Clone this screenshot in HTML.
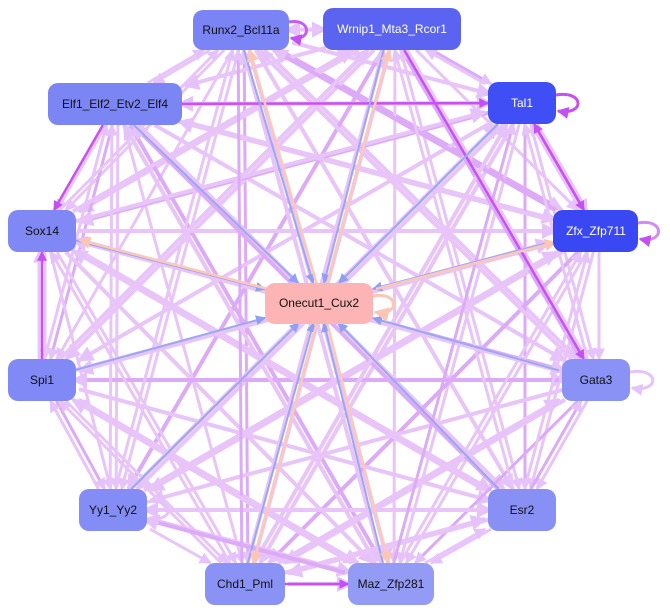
<!DOCTYPE html>
<html><head><meta charset="utf-8"><style>
html,body{margin:0;padding:0;background:#fff;width:670px;height:614px;overflow:hidden}
svg{display:block}
text{font-family:"Liberation Sans",sans-serif;font-size:12px;text-anchor:middle;dominant-baseline:central}
</style></head><body>
<svg id="s" width="670" height="614" viewBox="0 0 670 614">
<defs>
<marker id="ml" markerWidth="4" markerHeight="4" refX="3.5" refY="2" orient="auto" markerUnits="strokeWidth"><path d="M0,0L4,2L0,4z" fill="#e6c2fa"/></marker>
<marker id="md" markerWidth="4" markerHeight="4" refX="3.5" refY="2" orient="auto" markerUnits="strokeWidth"><path d="M0,0L4,2L0,4z" fill="#c34ff5"/></marker>
<marker id="mb" markerWidth="5" markerHeight="5" refX="4.5" refY="2.5" orient="auto" markerUnits="strokeWidth"><path d="M0,0L5,2.5L0,5z" fill="#8fa0f2"/></marker>
<marker id="mp" markerWidth="5" markerHeight="5" refX="4.5" refY="2.5" orient="auto" markerUnits="strokeWidth"><path d="M0,0L5,2.5L0,5z" fill="#fcc6b6"/></marker>
</defs>
<g id="edges"></g>
<g fill="none" stroke-width="3">
<path d="M289,22 C312,18 312,42 291,38" stroke="#c85cf5" marker-end="url(#md)"/>
<path d="M556,95 C585,90 585,116 558,111" stroke="#c34ff5" marker-end="url(#md)"/>
<path d="M638,223 C665,218 665,244 640,239" stroke="#d48af5" marker-end="url(#md)"/>
<path d="M630,372 C660,367 660,393 632,388" stroke="#e6c2fa" marker-end="url(#ml)"/>
<path d="M147,502 C175,497 175,523 149,518" stroke="#e6c2fa" marker-end="url(#ml)"/>
<path d="M373,296 C400,291 400,317 375,312" stroke="#fcc6b6" marker-end="url(#mp)"/>
</g>
<g id="nodes">
<rect x="193" y="10" width="96" height="40" rx="10" fill="#7b84f5"/><text x="241" y="30" fill="#111">Runx2_Bcl11a</text>
<rect x="323" y="8" width="138" height="42" rx="10" fill="#5a64f0"/><text x="392" y="29" fill="#fff">Wrnip1_Mta3_Rcor1</text>
<rect x="48" y="83" width="134" height="42" rx="10" fill="#7b85f4"/><text x="115" y="104" fill="#111">Elf1_Elf2_Etv2_Elf4</text>
<rect x="488" y="82" width="68" height="42" rx="10" fill="#3f4ef5"/><text x="522" y="103" fill="#fff">Tal1</text>
<rect x="8" y="210" width="68" height="42" rx="10" fill="#7f88f5"/><text x="42" y="231" fill="#111">Sox14</text>
<rect x="553" y="210" width="85" height="42" rx="10" fill="#3a48f3"/><text x="596" y="231" fill="#fff">Zfx_Zfp711</text>
<rect x="265" y="283" width="108" height="41" rx="10" fill="#fcb4b4"/><text x="319" y="303" fill="#111">Onecut1_Cux2</text>
<rect x="8" y="359" width="68" height="42" rx="10" fill="#8089f5"/><text x="42" y="380" fill="#111">Spi1</text>
<rect x="562" y="359" width="68" height="42" rx="10" fill="#8a92f5"/><text x="596" y="380" fill="#111">Gata3</text>
<rect x="79" y="489" width="68" height="42" rx="10" fill="#848cf5"/><text x="113" y="510" fill="#111">Yy1_Yy2</text>
<rect x="488" y="489" width="68" height="42" rx="10" fill="#8890f5"/><text x="522" y="510" fill="#111">Esr2</text>
<rect x="205" y="563" width="80" height="42" rx="10" fill="#8a92f5"/><text x="245" y="584" fill="#111">Chd1_Pml</text>
<rect x="348" y="563" width="86" height="42" rx="10" fill="#949bf5"/><text x="391" y="584" fill="#111">Maz_Zfp281</text>
</g>
</svg>
<script>
var N=[[241,30,48,20],[392,29,69,21],[115,104,67,21],[522,103,34,21],[42,231,34,21],[596,231,43,21],[42,380,34,21],[596,380,34,21],[113,510,34,21],[522,510,34,21],[245,584,40,21],[391,584,43,21]];
var C=[319,303,54,20];
var g=document.getElementById('edges'),ns='http://www.w3.org/2000/svg';
function clip(a,b){var dx=a[0]-b[0],dy=a[1]-b[1];var t=Math.min(b[2]/Math.abs(dx||1e-9),b[3]/Math.abs(dy||1e-9));return [b[0]+dx*t,b[1]+dy*t];}
function line(a,b,col,w,m){var p=clip(b,a),q=clip(a,b);var l=document.createElementNS(ns,'line');l.setAttribute('x1',p[0]);l.setAttribute('y1',p[1]);l.setAttribute('x2',q[0]);l.setAttribute('y2',q[1]);l.setAttribute('stroke',col);l.setAttribute('stroke-width',w);l.setAttribute('marker-end','url(#'+m+')');g.appendChild(l);}
for(var i=0;i<12;i++)for(var j=0;j<12;j++){if(i!=j&&((i+j)%3!=0||i<j)){var a=N[i].slice(),b=N[j].slice();var o=(i<j?3:-3);a[0]+=o;b[0]+=o;line(a,b,(i*7+j)%5==0?'#dcaaf7':'#e8c4f9',(i+j)%2?4:3,'ml');}}
var dark=[[2,3],[1,7],[5,3],[6,4],[10,11],[2,4],[3,5]];
dark.forEach(function(d){line(N[d[0]],N[d[1]],'#c850f5',2.5,'md');});
[0,1,2,3,4,5,6,7,8,9,10,11].forEach(function(i){var a=N[i].slice();a[0]-=3;line(a,C,'#9aa8f2',2,'mb');});
[0,1,4,5,10,11].forEach(function(i){var b=N[i].slice();b[0]+=3;var c=C.slice();c[0]+=3;line(c,b,'#fcc8b8',2.5,'mp');});
</script>
</body></html>
